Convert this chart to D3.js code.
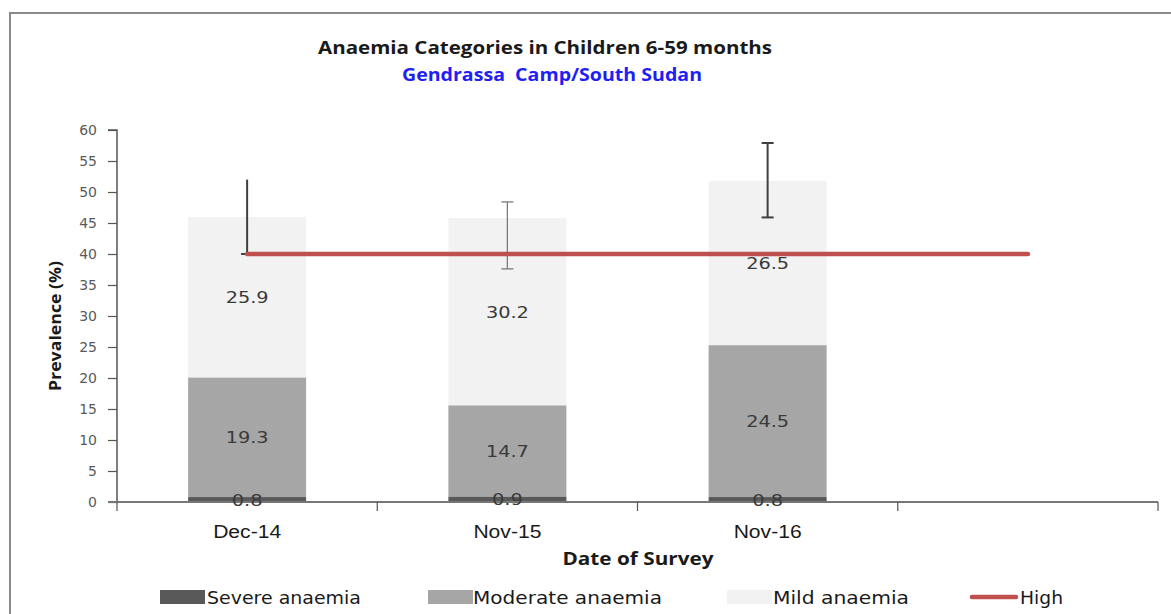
<!DOCTYPE html>
<html>
<head>
<meta charset="utf-8">
<script src="https://cdn.jsdelivr.net/npm/d3@7"></script>
<style>
  html, body { margin: 0; padding: 0; background: #fff; }
  svg { display: block; }
</style>
</head>
<body>
<svg id="chart" width="1171" height="614"></svg>
<script>
// Survey rounds (plus one empty slot that the threshold line runs into)
const categories = ["Dec-14", "Nov-15", "Nov-16", ""];
const surveys = ["Dec-14", "Nov-15", "Nov-16"];

// Prevalence (%) by anaemia category
const severe = [0.8, 0.9, 0.8];
const moderate = [19.3, 14.7, 24.5];
const mild = [25.9, 30.2, 26.5];

// 95% CI of total anaemia
const ciLow = [40.0, 37.6, 45.9];
const ciHigh = [52.0, 48.4, 57.9];

// Public health significance threshold ("High")
const highThreshold = 40;
const highSpan = ["Dec-14", ""];

const yTicks = [0, 5, 10, 15, 20, 25, 30, 35, 40, 45, 50, 55, 60];

const seriesNames = ["Severe anaemia", "Moderate anaemia", "Mild anaemia"];
const seriesColors = ["#595959", "#a6a6a6", "#f2f2f2"];

(function draw() {
  const svg = d3.select("#chart");
  const tickFont = "'DejaVu Sans', Verdana, sans-serif";
  const boldFont = "'Open Sans', 'Liberation Sans', sans-serif";
  const fit = (sel, len) => sel.attr("textLength", len).attr("lengthAdjust", "spacingAndGlyphs");

  // outer frame
  svg.append("path")
    .attr("d", "M10,620 V13 H1180")
    .attr("fill", "none").attr("stroke", "#8a8a8a").attr("stroke-width", 2);

  const plotLeft = 117, plotRight = 1158, plotTop = 130, plotBottom = 502;

  const x = d3.scaleBand().domain(categories).range([plotLeft, plotRight]).paddingInner(0).paddingOuter(0);
  const y = d3.scaleLinear().domain([0, 60]).range([plotBottom, plotTop]);
  const barW = 118;
  const cx = c => x(c) + x.bandwidth() / 2;

  // titles
  svg.append("text").attr("x", 545).attr("y", 54).attr("text-anchor", "middle")
    .attr("font-family", boldFont).attr("font-weight", "bold").attr("font-size", 17.5)
    .attr("fill", "#1a1a1a").call(fit, 454).text("Anaemia Categories in Children 6-59 months");
  svg.append("text").attr("x", 552).attr("y", 81).attr("text-anchor", "middle")
    .attr("font-family", boldFont).attr("font-weight", "bold").attr("font-size", 17.5)
    .attr("fill", "#1f1ff5").attr("xml:space", "preserve").call(fit, 300).text("Gendrassa  Camp/South Sudan");

  // stacked bars
  const rows = surveys.map((s, i) => ({ survey: s, severe: severe[i], moderate: moderate[i], mild: mild[i] }));
  const stack = d3.stack().keys(["severe", "moderate", "mild"])(rows);

  const g = svg.append("g");
  stack.forEach((layer, li) => {
    g.selectAll(null).data(layer).enter().append("rect")
      .attr("x", d => cx(d.data.survey) - barW / 2)
      .attr("width", barW)
      .attr("y", d => y(d[1]))
      .attr("height", d => y(d[0]) - y(d[1]))
      .attr("fill", seriesColors[li]);
  });

  // y axis
  const yAxis = d3.axisLeft(y).tickValues(yTicks).tickSize(9).tickPadding(11);
  const ya = svg.append("g").attr("transform", `translate(${plotLeft},0)`).call(yAxis);
  ya.select(".domain").attr("stroke", "#555").attr("stroke-width", 1.5).attr("d", `M-9,${plotTop}H0V${plotBottom}`);
  ya.selectAll(".tick line").attr("stroke", "#555").attr("stroke-width", 1.2);
  ya.selectAll(".tick text").attr("font-family", tickFont).attr("font-size", 14).attr("fill", "#5a5a5a");

  // x axis
  const xAxis = d3.axisBottom(x).tickSize(0).tickFormat(() => "");
  const xa = svg.append("g").attr("transform", `translate(0,${plotBottom})`).call(xAxis);
  xa.select(".domain").attr("stroke", "#777").attr("stroke-width", 2).attr("d", `M${plotLeft - 9},0H${plotRight}`);
  xa.selectAll(".tick").remove();
  // category boundary ticks
  const bounds = categories.map(c => x(c)).concat([plotRight]);
  svg.append("g").selectAll("line").data(bounds).enter().append("line")
    .attr("x1", d => d).attr("x2", d => d)
    .attr("y1", plotBottom).attr("y2", plotBottom + 9)
    .attr("stroke", "#555").attr("stroke-width", 1.2);

  // category labels
  svg.append("g").selectAll("text").data(surveys).enter().append("text")
    .attr("x", d => cx(d)).attr("y", plotBottom + 36).attr("text-anchor", "middle")
    .attr("font-family", "'Liberation Sans', sans-serif")
    .attr("font-size", 18).attr("fill", "#1a1a1a").call(fit, 68).text(d => d);

  // axis titles
  svg.append("text").attr("x", 638).attr("y", 565).attr("text-anchor", "middle")
    .attr("font-family", boldFont).attr("font-weight", "bold").attr("font-size", 17.5)
    .attr("fill", "#1a1a1a").call(fit, 151).text("Date of Survey");
  svg.append("text").attr("transform", "translate(61,326) rotate(-90)").attr("text-anchor", "middle")
    .attr("font-family", boldFont).attr("font-weight", "bold").attr("font-size", 16.5)
    .attr("fill", "#1a1a1a").call(fit, 130).text("Prevalence (%)");

  // error bars
  const errG = svg.append("g");
  surveys.forEach((s, i) => {
    const xc = cx(s);
    const col = i === 1 ? "#7a7a7a" : "#3f3f3f";
    const w = i === 1 ? 1.3 : 2;
    errG.append("line").attr("x1", xc).attr("x2", xc).attr("y1", y(ciLow[i])).attr("y2", y(ciHigh[i]))
      .attr("stroke", col).attr("stroke-width", w);
    errG.append("line").attr("x1", xc - 6).attr("x2", xc + 6).attr("y1", y(ciLow[i])).attr("y2", y(ciLow[i]))
      .attr("stroke", col).attr("stroke-width", w);
    if (i > 0) {
      errG.append("line").attr("x1", xc - 6).attr("x2", xc + 6).attr("y1", y(ciHigh[i])).attr("y2", y(ciHigh[i]))
        .attr("stroke", col).attr("stroke-width", w);
    }
  });

  // threshold line
  svg.append("path")
    .datum(highSpan.map(c => [cx(c), y(highThreshold)]))
    .attr("d", d3.line())
    .attr("stroke", "#c0504d").attr("stroke-width", 4.5).attr("stroke-linecap", "round").attr("fill", "none");

  // value labels
  const labG = svg.append("g");
  stack.forEach(layer => {
    labG.selectAll(null).data(layer).enter().append("text")
      .attr("x", d => cx(d.data.survey))
      .attr("y", d => y((d[0] + d[1]) / 2) + 6)
      .attr("text-anchor", "middle")
      .attr("font-family", tickFont).attr("font-size", 16).attr("fill", "#3a3a3a")
      .text(d => (d[1] - d[0]).toFixed(1))
      .each(function () {
        const n = this.textContent.length;
        d3.select(this).call(fit, n === 3 ? 31 : 43);
      });
  });

  // legend
  const legend = [
    { name: seriesNames[0], color: seriesColors[0], sx: 160, tx: 207, w: 154, type: "rect" },
    { name: seriesNames[1], color: seriesColors[1], sx: 428, tx: 473, w: 189, type: "rect" },
    { name: seriesNames[2], color: seriesColors[2], sx: 727, tx: 773, w: 136, type: "rect" },
    { name: "High", color: "#c0504d", sx: 970, tx: 1020, w: 43, type: "line" }
  ];
  const lg = svg.append("g");
  legend.forEach(l => {
    if (l.type === "rect") {
      lg.append("rect").attr("x", l.sx).attr("y", 590).attr("width", 45).attr("height", 14).attr("fill", l.color);
    } else {
      lg.append("line").attr("x1", l.sx + 2).attr("x2", l.sx + 46).attr("y1", 597).attr("y2", 597)
        .attr("stroke", l.color).attr("stroke-width", 4.5).attr("stroke-linecap", "round");
    }
    lg.append("text").attr("x", l.tx).attr("y", 604)
      .attr("font-family", tickFont).attr("font-size", 17).attr("fill", "#1a1a1a")
      .call(fit, l.w).text(l.name);
  });
})();
</script>
</body>
</html>
